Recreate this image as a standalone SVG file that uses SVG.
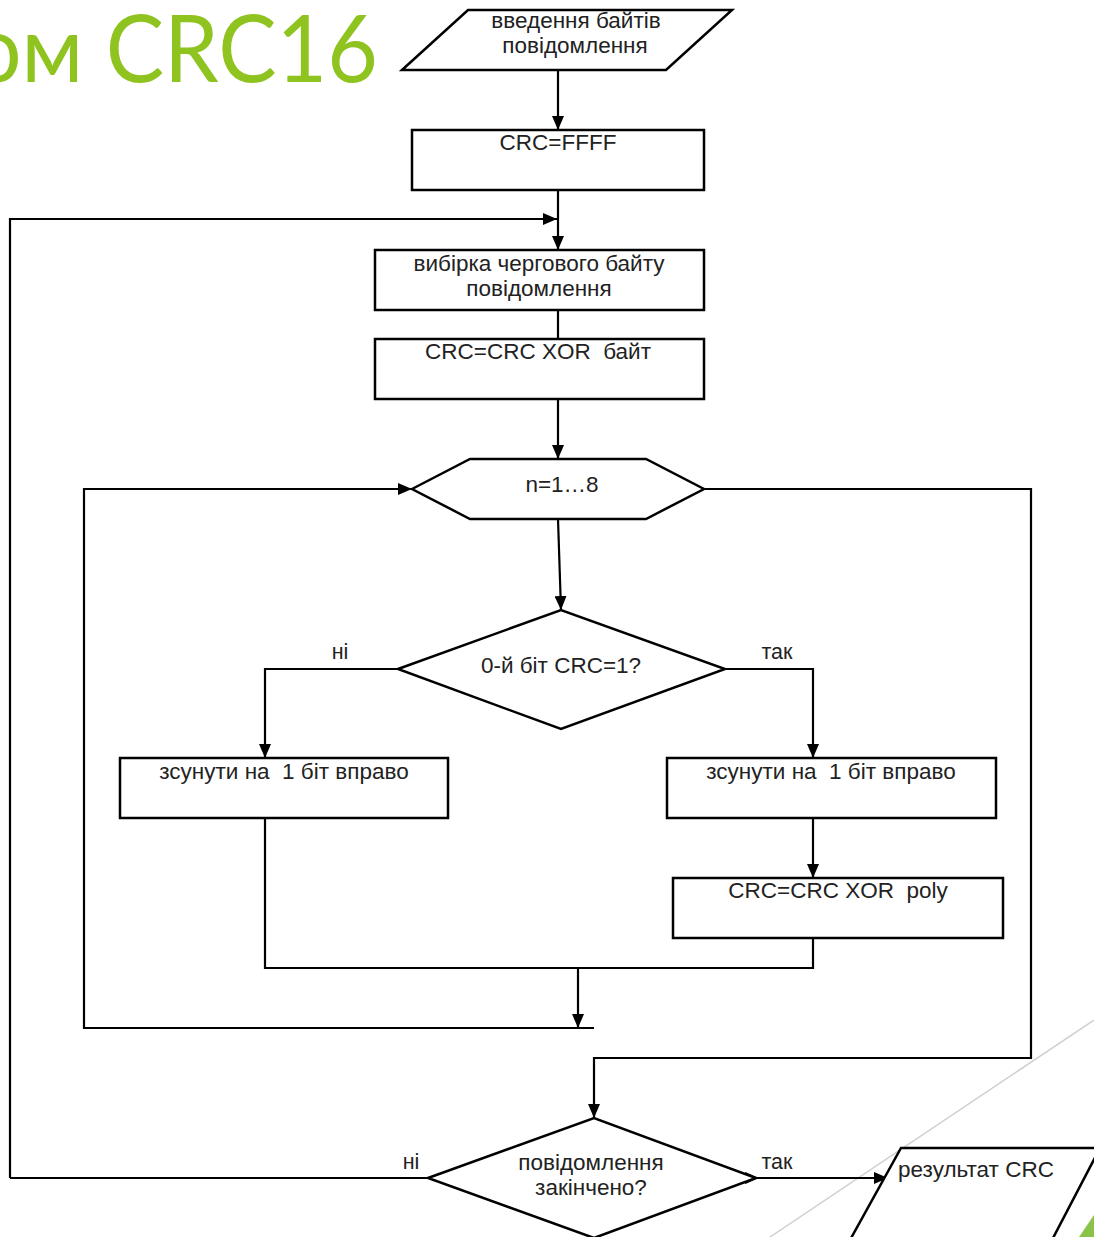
<svg xmlns="http://www.w3.org/2000/svg" width="1094" height="1237" viewBox="0 0 1094 1237">
<style>
.s{fill:#fff;stroke:#000;stroke-width:2.5}
.c{fill:none;stroke:#000;stroke-width:2.2}
.t{font-family:"Liberation Sans",Arial,sans-serif;font-size:22.5px;fill:#222;text-anchor:middle;white-space:pre}
.l{font-family:"Liberation Sans",Arial,sans-serif;font-size:21.5px;fill:#222;text-anchor:middle}
</style>
<defs>
<marker id="a" markerUnits="userSpaceOnUse" markerWidth="14" markerHeight="12" refX="14" refY="6" orient="auto"><path d="M0,0 L14,6 L0,12 z" fill="#000"/></marker>
</defs>
<rect width="1094" height="1237" fill="#fff"/>
<line x1="770" y1="1237" x2="1094" y2="1020" stroke="#cfcfcf" stroke-width="1.5"/>
<polygon points="1079,1237 1094,1215 1094,1237" fill="#8bc34a"/>
<text transform="translate(378,82) scale(0.94,1)" x="0" y="0" font-family="Lato,'Open Sans',sans-serif" font-size="93" fill="#8fc31f" text-anchor="end">ом CRC16</text>
<g id="connectors">
<path class="c" d="M558,70 V130" marker-end="url(#a)"/>
<path class="c" d="M558,190 V250" marker-end="url(#a)"/>
<path class="c" d="M10,1178 V219 H557" marker-end="url(#a)"/>
<path class="c" d="M558,310 V339"/>
<path class="c" d="M558,399 V459" marker-end="url(#a)"/>
<path class="c" d="M558,519 L561,610" marker-end="url(#a)"/>
<path class="c" d="M398,669 H265 V758" marker-end="url(#a)"/>
<path class="c" d="M725,669 H813 V758" marker-end="url(#a)"/>
<path class="c" d="M813,818 V878" marker-end="url(#a)"/>
<path class="c" d="M813,938 V968 H265 V818"/>
<path class="c" d="M578,968 V1028" marker-end="url(#a)"/>
<path class="c" d="M594,1028 H84 V489 H412" marker-end="url(#a)"/>
<path class="c" d="M704,489 H1031 V1058 H594 V1118" marker-end="url(#a)"/>
<path class="c" d="M428,1178 H10"/>
<path class="c" d="M756,1178 H888" marker-end="url(#a)"/>
<path class="c" d="M745,1173 L756,1178 L745,1183" stroke-width="1.5"/>
<text class="l" x="340" y="659">ні</text>
<text class="l" x="777" y="659">так</text>
<text class="l" x="411" y="1169">ні</text>
<text class="l" x="777" y="1169">так</text>
</g>
<g id="n-input">
<polygon class="s" points="402,70 468,10 732,10 666,70"/>
<text class="t" x="576" y="28">введення байтів</text>
<text class="t" x="575" y="53">повідомлення</text>
</g>
<g id="n-init">
<rect class="s" x="412" y="130" width="292" height="60"/>
<text class="t" x="558" y="150">CRC=FFFF</text>
</g>
<g id="n-fetch">
<rect class="s" x="375" y="250" width="329" height="60"/>
<text class="t" x="539" y="271">вибірка чергового байту</text>
<text class="t" x="539" y="296">повідомлення</text>
</g>
<g id="n-xor">
<rect class="s" x="375" y="339" width="329" height="60"/>
<text class="t" x="538" y="359">CRC=CRC XOR  байт</text>
</g>
<g id="n-loop">
<polygon class="s" points="412,489 470,459 646,459 704,489 646,519 470,519"/>
<text class="t" x="562" y="492">n=1…8</text>
</g>
<g id="n-bit">
<polygon class="s" points="398,669 561,610 725,669 561,729"/>
<text class="t" x="561" y="673">0-й біт CRC=1?</text>
</g>
<g id="n-shift-l">
<rect class="s" x="120" y="758" width="328" height="60"/>
<text class="t" x="284" y="779">зсунути на  1 біт вправо</text>
</g>
<g id="n-shift-r">
<rect class="s" x="667" y="758" width="329" height="60"/>
<text class="t" x="831" y="779">зсунути на  1 біт вправо</text>
</g>
<g id="n-poly">
<rect class="s" x="673" y="878" width="330" height="60"/>
<text class="t" x="838" y="898">CRC=CRC XOR  poly</text>
</g>
<g id="n-end">
<polygon class="s" points="428,1178 594,1118 756,1178 594,1238"/>
<text class="t" x="591" y="1170">повідомлення</text>
<text class="t" x="591" y="1195">закінчено?</text>
</g>
<g id="n-result">
<polygon class="s" points="850,1240 901,1148 1100,1148 1052,1240"/>
<text class="t" x="976" y="1177">результат CRC</text>
</g>
</svg>
